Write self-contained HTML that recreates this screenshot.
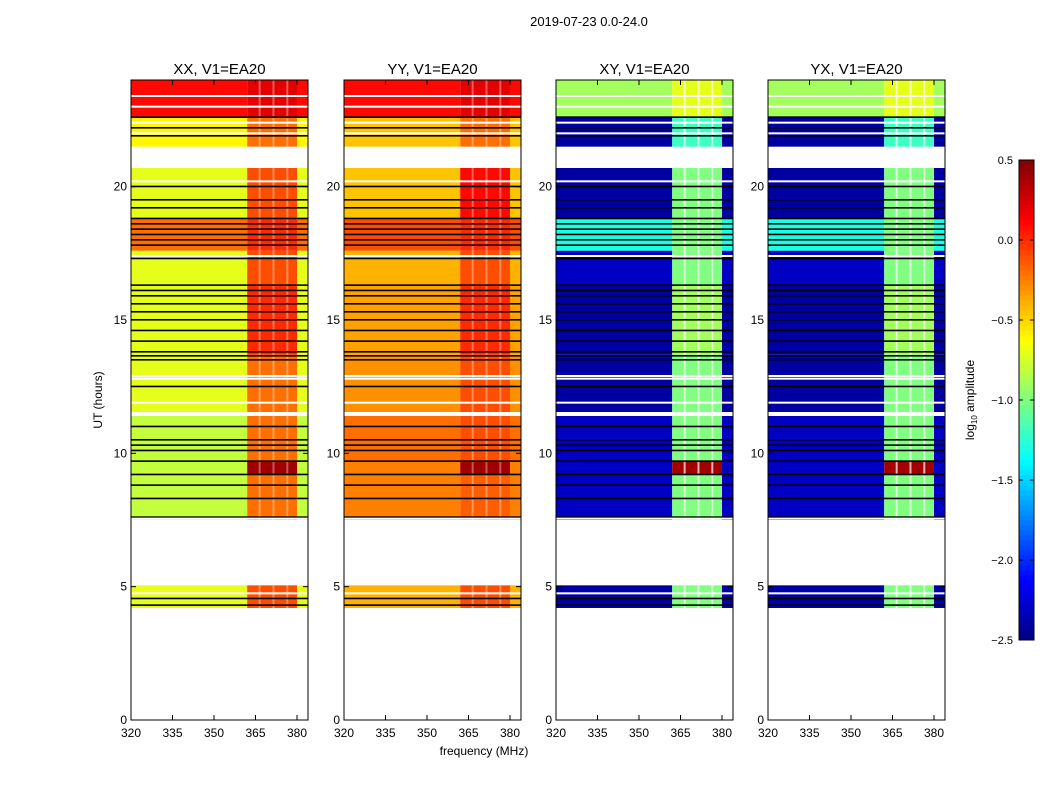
<!DOCTYPE html>
<html><head><meta charset="utf-8"><style>
body{margin:0;background:#fff;}
svg text{font-family:"Liberation Sans",sans-serif;}
</style></head><body>
<svg id="fig" width="1050" height="800" xmlns="http://www.w3.org/2000/svg">
<rect width="1050" height="800" fill="#fff"/>
<text x="589" y="26" font-size="13" text-anchor="middle">2019-07-23 0.0-24.0</text>
<text x="484" y="755" font-size="12" text-anchor="middle">frequency (MHz)</text>
<text transform="translate(102,400) rotate(-90)" font-size="12" text-anchor="middle">UT (hours)</text>
<g id="panels"></g>
<g id="cbar"></g>
</svg>
<script>
// ---- data ----
const panelNames = ["XX, V1=EA20","YY, V1=EA20","XY, V1=EA20","YX, V1=EA20"];
const segStart = [4.2, 7.5, 9.2, 9.7, 11.55, 13.7, 16.3, 17.6, 18.8, 21.5, 22.6];
const segEnd   = [5.05, 9.2, 9.7, 11.4, 13.7, 16.3, 17.6, 18.8, 20.7, 22.6, 24.0];
const lowXX  = [-0.7,-0.8,-0.8,-0.8,-0.7,-0.7,-0.7,-0.2,-0.7,-0.6,0.1];
const highXX = [-0.1,-0.2,0.4,-0.2,-0.2,0.0,-0.1,0.0,-0.1,-0.2,0.2];
const lowYY  = [-0.4,-0.25,-0.25,-0.2,-0.3,-0.35,-0.4,-0.1,-0.45,-0.45,0.1];
const highYY = [-0.1,-0.15,0.4,-0.1,-0.1,0.0,-0.1,0.0,0.1,-0.2,0.2];
const lowXY  = [-2.4,-2.3,-2.3,-2.3,-2.4,-2.4,-2.3,-1.3,-2.4,-2.4,-0.9];
const highXY = [-1.0,-1.0,0.4,-1.0,-1.0,-0.9,-1.0,-1.0,-1.0,-1.2,-0.7];
const lowYX  = [-2.4,-2.3,-2.3,-2.3,-2.4,-2.4,-2.3,-1.3,-2.4,-2.4,-0.9];
const highYX = [-1.0,-1.0,0.4,-1.0,-1.0,-0.9,-1.0,-1.0,-1.0,-1.2,-0.7];
const blackLines = [4.3,4.55,7.6,8.3,8.8,9.2,9.7,10.1,10.3,10.5,11.0,12.5,13.5,13.65,13.8,14.2,14.6,15.0,15.3,15.6,15.9,16.1,16.3,17.3,17.8,18.0,18.2,18.4,18.6,18.8,19.2,19.5,20.0,21.9,22.2,22.6];
const whiteLines = [4.75,7.55,11.45,11.9,12.8,12.9,17.4,20.2,22.0,22.4,23.0,23.4];
const bandLo = [362,380];
const stripeF = [366.5,371.5,376.5];
const yTicks = [0,5,10,15,20];
const xTicks = [320,335,350,365,380];
const cbTicks = [0.5,0.0,-0.5,-1.0,-1.5,-2.0,-2.5];
const vmin=-2.5, vmax=0.5;
// ---- scales ----
const panelX=[131,344,556,768], PW=177, PT=80, PB=720;
const yS = h => PB - h*(PB-PT)/24;
const xS = (p,f) => panelX[p] + (f-320)*(166/60);
function jet(v){
  let t=Math.max(0,Math.min(1,(v-vmin)/(vmax-vmin)));
  const c=x=>Math.round(255*Math.max(0,Math.min(1,x)));
  return `rgb(${c(1.5-Math.abs(4*t-3))},${c(1.5-Math.abs(4*t-2))},${c(1.5-Math.abs(4*t-1))})`;
}
const NS="http://www.w3.org/2000/svg";
function mk(tag,attrs,parent){const e=document.createElementNS(NS,tag);for(const k in attrs)e.setAttribute(k,attrs[k]);parent.appendChild(e);return e;}
const lows=[lowXX,lowYY,lowXY,lowYX], highs=[highXX,highYY,highXY,highYX];
const G=document.getElementById('panels');
for(let p=0;p<4;p++){
  const g=mk('g',{},G);
  
  
  const t=mk('text',{x:panelX[p]+PW/2,y:74,'font-size':15,'text-anchor':'middle'},g);
  t.textContent=panelNames[p];
  
  
  for(let i=0;i<segStart.length;i++){
    const y0=yS(segEnd[i]), y1=yS(segStart[i]);
    const r1=mk('rect',{x:xS(p,320),y:y0,width:xS(p,bandLo[0])-xS(p,320),height:y1-y0,fill:jet(lows[p][i])},g);
    
    
    const r2=mk('rect',{x:xS(p,bandLo[0]),y:y0,width:xS(p,bandLo[1])-xS(p,bandLo[0]),height:y1-y0,fill:jet(highs[p][i])},g);
    
    
    const r3=mk('rect',{x:xS(p,bandLo[1]),y:y0,width:panelX[p]+PW-xS(p,bandLo[1]),height:y1-y0,fill:jet(lows[p][i])},g);
    
    
    for(const f of stripeF){
      const s=mk('rect',{x:xS(p,f)-1,y:y0,width:2,height:y1-y0,fill:'#fff',opacity:p>=2?0.7:0.35},g);
      
      
    }
  }
  for(const h of blackLines){
    const l=mk('rect',{x:panelX[p],y:yS(h)-1,width:PW,height:1.6,fill:'#000'},g);
    
    
  }
  for(const h of whiteLines){
    const l=mk('rect',{x:panelX[p],y:yS(h)-1,width:PW,height:2,fill:'#fff'},g);
    
    
  }
  const fr=mk('rect',{x:panelX[p],y:PT,width:PW,height:PB-PT,fill:'none',stroke:'#000','stroke-width':1},g);
  
  
  for(const v of yTicks){
    const y=yS(v);
    mk('line',{x1:panelX[p],x2:panelX[p]+5,y1:y,y2:y,stroke:'#000'},g);
    mk('line',{x1:panelX[p]+PW,x2:panelX[p]+PW-5,y1:y,y2:y,stroke:'#000'},g);
    const tl=mk('text',{x:panelX[p]-4,y:y+4,'font-size':12,'text-anchor':'end'},g);
    tl.textContent=v;
    
    
  }
  for(const v of xTicks){
    const x=xS(p,v);
    mk('line',{x1:x,x2:x,y1:PB,y2:PB-5,stroke:'#000'},g);
    mk('line',{x1:x,x2:x,y1:PT,y2:PT+5,stroke:'#000'},g);
    const tl=mk('text',{x:x,y:PB+17,'font-size':12,'text-anchor':'middle'},g);
    tl.textContent=v;
    
    
  }
}
// colorbar
const C=document.getElementById('cbar');


const cx=1019,cw=15,ct=160,cb=640;
const cyS=v=>cb-(v-vmin)/(vmax-vmin)*(cb-ct);
for(let i=0;i<96;i++){
  const v0=vmin+i*(vmax-vmin)/96, v1=vmin+(i+1)*(vmax-vmin)/96;
  mk('rect',{x:cx,y:cyS(v1),width:cw,height:cyS(v0)-cyS(v1)+0.5,fill:jet((v0+v1)/2)},C);
}
mk('rect',{x:cx,y:ct,width:cw,height:cb-ct,fill:'none',stroke:'#000'},C);
for(const v of cbTicks){
  const y=cyS(v);
  mk('line',{x1:cx,x2:cx+4,y1:y,y2:y,stroke:'#000'},C);
  mk('line',{x1:cx+cw-4,x2:cx+cw,y1:y,y2:y,stroke:'#000'},C);
  const tl=mk('text',{x:1013,y:y+4,'font-size':11,'text-anchor':'end'},C);
  tl.textContent=(v<0?'\u2212':'')+Math.abs(v).toFixed(1);
  
  
}
const lab=mk('text',{transform:'translate(974,400) rotate(-90)','font-size':12,'text-anchor':'middle'},C);
lab.innerHTML='log<tspan font-size="8" dy="3">10</tspan><tspan dy="-3"> amplitude</tspan>';


</script>
</body></html>
